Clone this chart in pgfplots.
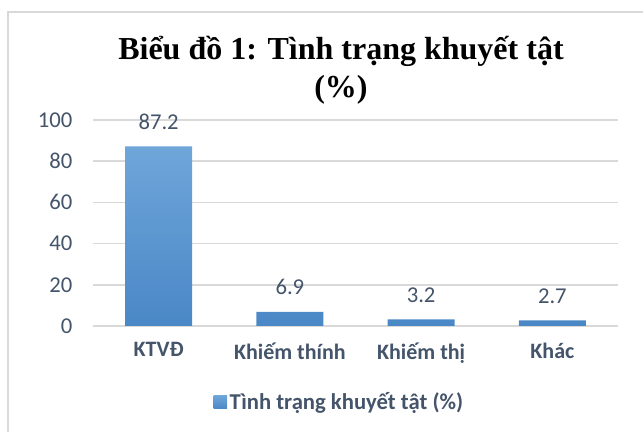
\documentclass[border=0pt]{standalone}
\usepackage{fontspec}
\setmainfont{Carlito}
\newfontfamily\titlefont{Liberation Serif}
\usepackage{pgfplots}
\pgfplotsset{compat=1.18}
\definecolor{txt}{HTML}{44546A}
\definecolor{gridc}{HTML}{D9D9D9}
\definecolor{bartop}{HTML}{6FA6DA}
\definecolor{barbot}{HTML}{4A87C6}
\begin{document}
\begin{tikzpicture}
\useasboundingbox (0pt,0pt) rectangle (482.25pt,324pt);
\draw[gridc, line width=1.5pt] (6pt,0pt) -- (6pt,315pt) -- (482.25pt,315pt);
\node[font=\titlefont\bfseries\fontsize{24}{28.5}\selectfont, align=center, text=black] at (255.75pt,271pt) {Biểu đồ 1: Tình trạng khuyết tật\\(\%)};
\begin{axis}[
  at={(69.75pt,79.5pt)}, anchor=south west,
  scale only axis, width=393.75pt, height=154.5pt,
  xmin=-0.5, xmax=3.5, ymin=0, ymax=100,
  ytick={0,20,...,100},
  xtick={0,1,2,3},
  xticklabels={KTVĐ, Khiếm thính, Khiếm thị, Khác},
  ybar, bar width=50.25pt,
  axis line style={draw=none},
  ymajorgrids, grid style={gridc, line width=1.1pt},
  major tick length=0pt,
  /pgf/number format/assume math mode=true,
  yticklabel style={font=\fontsize{17}{18}\selectfont, text=txt, xshift=-12pt},
  xticklabel style={font=\bfseries\fontsize{16.5}{18}\selectfont, text=txt, yshift=-9pt},
  nodes near coords,
  nodes near coords style={font=\fontsize{17}{18}\selectfont, text=txt, yshift=9pt},
  legend style={at={(0.47,-0.37)}, anchor=center, draw=none, fill=none, font=\fontsize{17}{18}\selectfont, text=txt},
  legend image code/.code={\fill[top color=bartop, bottom color=barbot] (0pt,-5pt) rectangle (10pt,5pt);},
]
\addplot[draw=none, top color=bartop, bottom color=barbot] coordinates {(0,87.2) (1,6.9) (2,3.2) (3,2.7)};
\addlegendentry{\textbf{Tình trạng khuyết tật (\%)}}
\end{axis}
\end{tikzpicture}
\end{document}
